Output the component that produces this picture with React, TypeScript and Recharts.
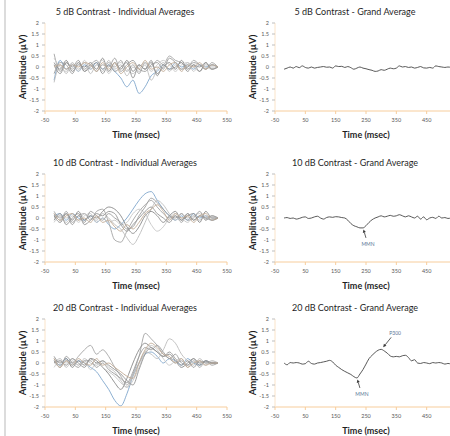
import React from 'react';
import { LineChart, Line, XAxis, YAxis, ReferenceDot } from 'recharts';

// ---------- data ----------
const TIME_IND = [-20, 0, 20, 40, 60, 80, 100, 120, 140, 160, 180, 200, 220, 240, 260, 280, 300, 320, 340, 360, 380, 400, 420, 440, 460, 480, 500, 520];
const TIME_GA = [-20, -10, 0, 10, 20, 30, 40, 50, 60, 70, 80, 90, 100, 110, 120, 130, 140, 150, 160, 170, 180, 190, 200, 210, 220, 230, 240, 250, 260, 270, 280, 290, 300, 310, 320, 330, 340, 350, 360, 370, 380, 390, 400, 410, 420, 430, 440, 450, 460, 470, 480, 490, 500, 510, 520, 530];
const X_TICKS_IND = [-50, 50, 150, 250, 350, 450, 550];
const X_TICKS_GA = [-50, 50, 150, 250, 350, 450];
const Y_TICKS = [-2, -1.5, -1, -0.5, 0, 0.5, 1, 1.5, 2];
const CONTRASTS = ['5 dB', '10 dB', '20 dB'];

// 5 dB individual averages
const I5_A = [-0.6, 0.3, -0.1, 0.1, -0.2, 0.1, -0.1, 0.2, -0.1, 0.1, -0.2, -0.5, -0.9, -0.6, -1.2, -0.9, -0.4, -0.2, 0.1, -0.1, 0.2, 0.0, 0.1, -0.1, 0.1, 0.0, 0.1, 0.0];
const I5_B = [0.6, -0.2, 0.2, -0.1, 0.2, -0.2, 0.1, 0.3, -0.1, 0.2, 0.0, 0.3, -0.2, 0.1, -0.3, 0.2, 0.0, 0.3, 0.1, 0.5, 0.3, 0.2, 0.0, 0.3, 0.1, -0.1, 0.2, 0.0];
const I5_C = [-0.7, 0.1, -0.3, 0.2, -0.1, 0.2, -0.3, 0.1, -0.2, 0.3, -0.1, 0.1, -0.4, 0.0, -0.2, 0.1, -0.6, -0.1, 0.2, -0.2, 0.1, -0.1, 0.2, 0.0, -0.2, 0.1, 0.0, 0.0];
const I5_D = [0.2, -0.1, 0.3, -0.2, 0.1, 0.0, 0.2, -0.1, 0.4, -0.2, 0.2, -0.1, 0.3, -0.2, 0.1, -0.1, 0.2, -0.3, 0.0, 0.2, -0.1, 0.3, -0.1, 0.1, -0.2, 0.2, -0.1, 0.0];
const I5_E = [0.4, 0.0, -0.2, 0.2, -0.2, 0.3, -0.1, 0.1, 0.3, -0.3, 0.1, 0.2, -0.1, -0.3, 0.0, 0.2, -0.2, 0.1, 0.3, 0.1, -0.2, 0.1, 0.2, -0.2, 0.1, 0.0, -0.1, 0.0];
const I5_F = [-0.3, 0.2, 0.1, -0.3, 0.2, -0.1, 0.1, -0.2, 0.1, 0.0, 0.4, -0.2, 0.1, 0.3, -0.1, -0.2, 0.1, 0.2, -0.1, 0.4, 0.2, -0.1, 0.0, 0.2, 0.1, -0.1, 0.1, 0.0];
const I5_G = [0.1, -0.3, 0.2, 0.0, 0.3, -0.2, 0.0, 0.2, -0.3, 0.1, -0.2, 0.0, 0.2, -0.5, 0.1, -0.1, 0.3, -0.4, 0.1, -0.1, 0.0, 0.2, -0.2, 0.1, 0.0, 0.2, -0.1, 0.0];
const I5_H = [0.0, 0.1, -0.1, 0.1, 0.0, 0.2, 0.1, -0.2, 0.2, -0.1, 0.2, -0.3, 0.0, 0.2, -0.1, 0.3, -0.1, 0.0, -0.2, 0.1, 0.2, -0.2, 0.1, 0.0, 0.2, -0.1, 0.1, 0.0];

// 10 dB individual averages
const I10_A = [0.1, 0.2, -0.1, 0.2, 0.0, -0.1, 0.1, -0.2, 0.0, -0.3, -0.5, -0.3, 0.0, 0.4, 0.8, 1.1, 1.2, 0.8, 0.4, 0.1, -0.1, 0.1, -0.1, 0.2, 0.0, 0.1, -0.1, 0.0];
const I10_B = [0.2, -0.1, 0.3, -0.2, 0.1, 0.2, -0.1, 0.3, 0.4, -0.2, -1.0, -1.1, -0.6, -0.1, 0.3, 0.6, 0.8, 0.5, 0.2, 0.0, 0.1, -0.2, 0.2, -0.1, 0.1, 0.0, 0.1, 0.0];
const I10_C = [0.0, 0.1, -0.2, 0.1, -0.1, 0.2, 0.0, -0.1, 0.2, 0.0, -0.3, -0.5, -0.9, -1.2, -0.8, -0.2, 0.4, 0.8, 0.6, 0.2, -0.1, 0.2, 0.0, 0.1, -0.1, 0.1, 0.0, 0.0];
const I10_D = [0.1, -0.2, 0.2, -0.1, 0.3, -0.1, 0.1, 0.0, 0.3, 0.5, 0.4, 0.1, -0.4, -0.7, -0.4, 0.1, 0.3, 0.1, -0.2, 0.1, 0.3, -0.1, 0.1, 0.2, -0.2, 0.3, 0.0, 0.0];
const I10_E = [-0.2, 0.1, 0.0, 0.2, -0.2, 0.1, 0.2, -0.2, 0.0, -0.2, -0.1, -0.3, -0.2, 0.2, 0.4, 0.2, -0.3, -0.6, -0.4, 0.0, 0.2, 0.0, -0.2, 0.1, 0.2, -0.1, 0.1, 0.0];
const I10_F = [0.3, 0.0, 0.2, -0.3, 0.1, -0.2, 0.3, 0.1, -0.1, 0.2, 0.0, -0.2, -0.5, -0.4, 0.1, 0.5, 0.9, 0.7, 0.4, 0.1, 0.0, 0.2, -0.1, 0.0, 0.3, -0.1, 0.1, 0.0];
const I10_G = [-0.1, 0.2, -0.3, 0.0, 0.2, -0.3, -0.1, 0.2, 0.1, 0.3, 0.2, -0.3, -0.6, -0.3, 0.0, 0.3, 0.5, 0.2, 0.0, -0.2, 0.1, -0.1, 0.2, -0.1, 0.1, 0.0, -0.1, 0.0];
const I10_H = [0.2, -0.1, 0.1, 0.2, -0.1, 0.0, -0.2, 0.1, -0.2, -0.1, -0.4, -0.6, -0.3, -0.5, -0.2, 0.2, 0.4, 0.6, 0.3, -0.1, 0.2, 0.0, 0.1, -0.2, 0.1, 0.2, -0.1, 0.0];

// 20 dB individual averages
const I20_A = [0.1, -0.1, 0.2, -0.1, 0.1, 0.0, -0.2, -0.4, -0.8, -1.2, -1.7, -1.95, -1.4, -0.6, 0.0, 0.4, 0.5, 0.3, 0.0, 0.2, 0.1, -0.1, 0.2, 0.0, -0.1, 0.1, 0.0, 0.0];
const I20_B = [0.2, -0.1, 0.1, 0.0, 0.3, 0.6, 0.8, 0.4, 0.6, 0.3, -0.2, -0.6, -1.0, -0.5, 0.3, 1.35, 1.1, 0.8, 0.4, 0.2, 0.0, 0.1, -0.1, 0.1, -0.2, 0.1, 0.0, 0.0];
const I20_C = [0.0, 0.2, -0.2, 0.1, -0.1, 0.2, 0.0, -0.1, 0.1, -0.2, -0.4, -0.8, -1.1, -0.6, 0.0, 0.5, 0.4, 0.2, 0.6, 1.1, 0.9, 0.4, 0.1, -0.1, 0.2, 0.0, 0.1, 0.0];
const I20_D = [0.3, 0.0, 0.2, -0.2, 0.1, -0.1, 0.2, 0.1, -0.2, -0.5, -0.9, -1.2, -0.7, 0.0, 0.6, 0.9, 0.7, 0.5, 0.3, 0.4, 0.1, -0.2, 0.0, 0.2, -0.1, 0.1, 0.0, 0.0];
const I20_E = [-0.2, 0.1, 0.0, 0.2, -0.1, 0.1, -0.3, 0.0, -0.2, -0.4, -0.6, -0.9, -1.1, -0.8, -0.2, 0.5, 0.8, 0.6, 0.2, -0.1, 0.1, 0.2, -0.2, 0.1, 0.0, -0.1, 0.1, 0.0];
const I20_F = [0.1, -0.2, 0.3, 0.0, -0.2, 0.1, 0.1, -0.2, 0.0, -0.3, -0.5, -0.7, -0.9, -0.4, 0.3, 0.7, 0.6, 0.8, 0.5, 0.2, 0.4, 0.0, -0.1, 0.2, 0.0, 0.1, -0.1, 0.0];
const I20_G = [0.0, 0.1, -0.1, 0.2, 0.0, -0.2, 0.2, 0.0, 0.1, -0.1, -0.3, -0.5, -0.8, -1.0, -0.3, 0.4, 0.7, 0.5, 0.3, 0.5, 0.2, -0.1, 0.1, -0.2, 0.1, 0.0, 0.0, 0.0];
const I20_H = [0.2, -0.2, 0.1, -0.1, 0.2, 0.0, -0.1, 0.2, -0.1, 0.0, -0.2, -0.4, -0.6, -0.7, 0.0, 0.6, 0.9, 0.7, 0.4, 0.3, 0.0, 0.2, -0.2, 0.0, 0.1, -0.1, 0.0, 0.0];

// grand averages
const GA5 = [-0.1, -0.05, 0.0, -0.05, 0.02, -0.03, 0.05, -0.02, -0.05, 0.0, -0.05, -0.02, 0.0, 0.02, -0.01, 0.0, -0.05, 0.05, 0.02, 0.03, -0.02, 0.02, -0.03, -0.1, -0.05, 0.0, -0.05, -0.08, -0.12, -0.15, -0.2, -0.18, -0.12, -0.15, -0.1, -0.05, -0.08, -0.05, 0.05, 0.0, 0.02, -0.02, 0.0, -0.05, -0.02, 0.02, -0.04, -0.05, -0.02, -0.05, 0.05, 0.02, 0.0, -0.02, 0.0, -0.02];
const GA10 = [0.0, 0.02, -0.02, 0.0, -0.05, -0.02, 0.03, 0.05, -0.02, 0.0, 0.05, 0.08, 0.0, -0.05, 0.02, 0.05, 0.03, 0.06, 0.05, 0.02, 0.0, -0.1, -0.25, -0.35, -0.4, -0.45, -0.45, -0.35, -0.2, -0.08, 0.0, 0.05, 0.1, 0.05, 0.08, 0.12, 0.08, 0.1, 0.15, 0.1, 0.05, 0.1, 0.05, 0.0, 0.08, -0.05, 0.05, -0.08, 0.0, 0.03, -0.02, 0.08, 0.0, 0.02, -0.02, 0.0];
const GA20 = [0.0, -0.08, 0.02, 0.0, 0.02, 0.0, -0.05, -0.03, 0.08, -0.02, -0.05, 0.0, 0.02, 0.05, 0.08, 0.12, 0.05, -0.1, -0.2, -0.3, -0.38, -0.45, -0.52, -0.62, -0.68, -0.5, -0.3, -0.05, 0.2, 0.35, 0.48, 0.58, 0.62, 0.55, 0.45, 0.32, 0.28, 0.3, 0.28, 0.33, 0.35, 0.25, 0.1, 0.15, 0.0, -0.02, 0.02, 0.0, -0.03, 0.02, 0.0, 0.02, 0.0, -0.05, -0.02, -0.05];

const IND_SETS = [
  [I5_A, I5_B, I5_C, I5_D, I5_E, I5_F, I5_G, I5_H],
  [I10_A, I10_B, I10_C, I10_D, I10_E, I10_F, I10_G, I10_H],
  [I20_A, I20_B, I20_C, I20_D, I20_E, I20_F, I20_G, I20_H],
];
const GA_SETS = [GA5, GA10, GA20];

// annotations
const NOTES_10 = [{ t: 240, v: -0.45, label: 'MMN', kind: 'down' }];
const NOTES_20 = [
  { t: 220, v: -0.68, label: 'MMN', kind: 'down' },
  { t: 300, v: 0.62, label: 'P300', kind: 'up' },
];
const NOTE_SETS = [[], NOTES_10, NOTES_20];

// ---------- styling ----------
const FONT = 'Lato, "Open Sans", sans-serif';
const IND_COLORS = ['#7fa6cc', '#a4a4a4', '#bcbcbc', '#888888', '#c6c6c6', '#9c9c9c', '#939393', '#bfa993'];
const CH_W = 235;
const CH_H = 136;
const MARGIN = { top: 23, right: 8, left: 25, bottom: 0 };
const COL_LEFT = [0, 230];
const ROW_TOP = [0, 151, 296];

const buildInd = (series: number[][]) =>
  TIME_IND.map((t, i) => {
    const row: Record<string, number> = { t };
    series.forEach((s, k) => {
      row['s' + k] = s[i];
    });
    return row;
  });
const buildGa = (s: number[]) => TIME_GA.map((t, i) => ({ t, v: s[i] }));

function ArrowNote(props: any) {
  const { cx, cy, label, kind } = props;
  if (cx == null || cy == null) return null;
  let x1, y1, x2, y2, tx, ty;
  if (kind === 'down') {
    x1 = cx + 3; y1 = cy + 10; x2 = cx + 0.5; y2 = cy + 1.5; tx = cx + 5; ty = cy + 17;
  } else {
    x1 = cx + 10; y1 = cy - 12; x2 = cx + 2; y2 = cy - 2; tx = cx + 14; ty = cy - 16;
  }
  const ang = Math.atan2(y2 - y1, x2 - x1);
  const hl = 3.2, hw = 1.6;
  const bx = x2 - hl * Math.cos(ang), by = y2 - hl * Math.sin(ang);
  const px = -Math.sin(ang) * hw, py = Math.cos(ang) * hw;
  return (
    <g>
      <line x1={x1} y1={y1} x2={bx} y2={by} stroke="#3a3a3a" strokeWidth={0.8} />
      <polygon points={`${x2},${y2} ${bx + px},${by + py} ${bx - px},${by - py}`} fill="#3a3a3a" />
      <text x={tx} y={ty} fontSize={5} fill="#5a7896" textAnchor="middle" dominantBaseline="middle" fontFamily={FONT}>
        {label}
      </text>
    </g>
  );
}

const textBase: React.CSSProperties = {
  position: 'absolute',
  fontFamily: FONT,
  color: '#1f1f1f',
  whiteSpace: 'nowrap',
  textAlign: 'center',
};

function Panel({ row, col }: { row: number; col: number }) {
  const isGa = col === 1;
  const data = isGa ? buildGa(GA_SETS[row]) : buildInd(IND_SETS[row]);
  const title = `${CONTRASTS[row]} Contrast - ${isGa ? 'Grand Average' : 'Individual Averages'}`;
  const notes = isGa ? NOTE_SETS[row] : [];
  return (
    <div style={{ position: 'absolute', left: COL_LEFT[col], top: ROW_TOP[row], width: CH_W, height: CH_H + 20 }}>
      <LineChart width={CH_W} height={CH_H} data={data} margin={MARGIN}>
        <XAxis
          dataKey="t"
          type="number"
          domain={[-50, 550]}
          ticks={isGa ? X_TICKS_GA : X_TICKS_IND}
          interval={0}
          height={25}
          tickSize={3}
          tickMargin={4}
          axisLine={{ stroke: '#f7cd9c' }}
          tickLine={{ stroke: '#f7cd9c' }}
          tick={{ fontSize: 5.5, fill: '#595959', fontFamily: FONT }}
        />
        <YAxis
          type="number"
          domain={[-2, 2]}
          ticks={Y_TICKS}
          interval={0}
          width={20}
          tickSize={3}
          tickMargin={3}
          axisLine={{ stroke: '#fbe4c9' }}
          tickLine={{ stroke: '#bfbfbf' }}
          tick={{ fontSize: 5.5, fill: '#595959', fontFamily: FONT }}
        />
        {isGa ? (
          <Line type="monotone" dataKey="v" stroke="#454545" strokeWidth={0.9} dot={false} activeDot={false} isAnimationActive={false} />
        ) : (
          IND_SETS[row].map((_, k) => (
            <Line
              key={k}
              type="monotone"
              dataKey={'s' + k}
              stroke={IND_COLORS[k]}
              strokeWidth={0.9}
              dot={false}
              activeDot={false}
              isAnimationActive={false}
            />
          ))
        )}
        {notes.map((n: any, i: number) => (
          <ReferenceDot
            key={i}
            x={n.t}
            y={n.v}
            r={0}
            ifOverflow="visible"
            shape={(p: any) => <ArrowNote cx={p.cx} cy={p.cy} label={n.label} kind={n.kind} />}
          />
        ))}
      </LineChart>
      <div style={{ ...textBase, left: 0, width: 250, top: 7, fontSize: 9, lineHeight: '10px' }}>{title}</div>
      <div
        style={{
          ...textBase,
          left: 23 - 50,
          top: 67 - 5,
          width: 100,
          fontSize: 9.5,
          lineHeight: '10px',
          fontWeight: 700,
          transform: 'rotate(-90deg)',
        }}
      >
        Amplitude (µV)
      </div>
      <div style={{ ...textBase, left: 136 - 50, top: 135 - 5, width: 100, fontSize: 9, lineHeight: '10px', fontWeight: 700 }}>
        Time (msec)
      </div>
    </div>
  );
}

export default function App() {
  return (
    <div style={{ position: 'fixed', left: 0, top: 0, width: 450, height: 436, overflow: 'hidden', background: '#ffffff' }}>
      <div style={{ position: 'absolute', left: 4, top: 0, width: 2, height: 436, background: '#dcdcdc' }} />
      {[0, 1, 2].map((r) => [0, 1].map((c) => <Panel key={`${r}-${c}`} row={r} col={c} />))}
    </div>
  );
}
